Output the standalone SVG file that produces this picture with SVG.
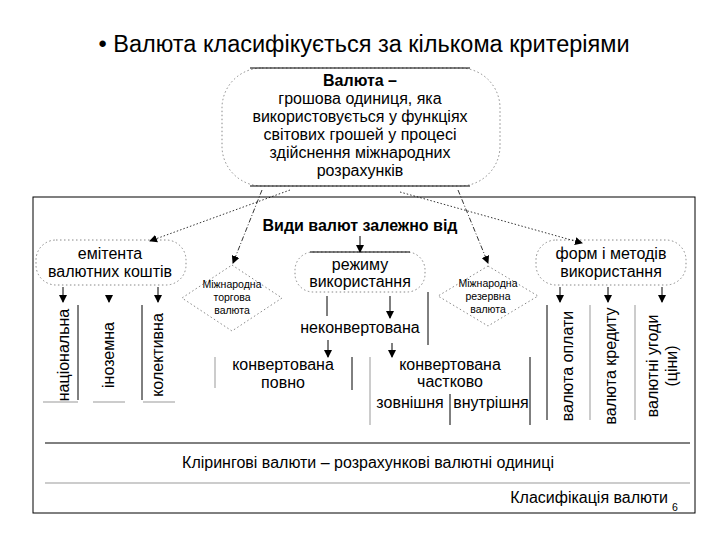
<svg xmlns="http://www.w3.org/2000/svg" width="720" height="540" viewBox="0 0 720 540">
<defs>
<marker id="ah" markerWidth="8" markerHeight="8" refX="7" refY="4" orient="auto" markerUnits="userSpaceOnUse"><path d="M0,0 L8,4 L0,8 z" fill="#000"/></marker>
<style>
text{font-family:"Liberation Sans",Arial,sans-serif;fill:#000;text-anchor:middle}
.t{font-size:16px}.s{font-size:10.5px}.b{font-weight:bold}
.dot{fill:none;stroke:#888;stroke-width:1;stroke-dasharray:1.5 2.5}
.ln{stroke:#000;stroke-width:1;fill:none}
.lg{stroke:#999;stroke-width:1;fill:none}
.ar{stroke:#000;stroke-width:1;marker-end:url(#ah);fill:none}
.dd{stroke:#000;stroke-width:0.8;stroke-dasharray:5 2 1 2;marker-end:url(#ah);fill:none}
.dt{stroke:#000;stroke-width:0.8;stroke-dasharray:1.5 2;marker-end:url(#ah);fill:none}
</style>
</defs>
<rect width="720" height="540" fill="#fff"/>
<text x="364" y="52" style="font-size:23.5px">• Валюта класифікується за кількома критеріями</text>
<rect x="33" y="197" width="662" height="316" fill="none" stroke="#000"/>

<g id="valyuta">
<rect x="222" y="68" width="278" height="118" rx="40" class="dot"/>
<line x1="250" y1="68" x2="470" y2="68" class="ln"/>
<line x1="250" y1="186" x2="470" y2="186" class="ln"/>
<text x="360" y="86" class="t b">Валюта –</text>
<text x="360" y="104" class="t">грошова одиниця, яка</text>
<text x="360" y="122" class="t">використовується у функціях</text>
<text x="360" y="140" class="t">світових грошей у процесі</text>
<text x="360" y="158" class="t">здійснення міжнародних</text>
<text x="360" y="176" class="t">розрахунків</text>
</g>

<g id="vydy"><text x="360" y="231" class="t b">Види валют залежно від</text></g>

<g id="emitenta">
<rect x="36" y="240" width="150" height="45" rx="20" class="dot"/>
<text x="110" y="259" class="t">емітента</text>
<text x="110" y="277" class="t">валютних коштів</text>
</g>
<g id="emit-items">
<text transform="translate(69,355) rotate(-90)" class="t">національна</text>
<text transform="translate(114,355) rotate(-90)" class="t">іноземна</text>
<text transform="translate(163,355) rotate(-90)" class="t">колективна</text>
<line x1="78" y1="305" x2="78" y2="400" class="ln"/>
<line x1="142" y1="305" x2="142" y2="400" class="ln"/>
<line x1="43" y1="402" x2="78" y2="402" class="lg"/>
<line x1="93" y1="402" x2="125" y2="402" class="lg"/>
<line x1="143" y1="402" x2="175" y2="402" class="lg"/>
</g>

<g id="torgova">
<polygon points="232,265 282,298 232,331 182,298" class="dot"/>
<text x="232" y="288" class="s">Міжнародна</text>
<text x="232" y="301" class="s">торгова</text>
<text x="232" y="314" class="s">валюта</text>
</g>

<g id="rezhymu">
<rect x="295" y="252" width="130" height="40" rx="18" class="dot"/>
<line x1="310" y1="252" x2="410" y2="252" class="ln"/>
<text x="360" y="270" class="t">режиму</text>
<text x="360" y="287" class="t">використання</text>
</g>
<g id="nekonv">
<text x="360" y="333" class="t">неконвертована</text>
<line x1="428" y1="292" x2="428" y2="345" class="ln"/>
</g>
<g id="konv-povno">
<line x1="215" y1="357" x2="215" y2="388" class="lg"/>
<line x1="352" y1="357" x2="352" y2="390" class="ln"/>
<text x="283" y="370" class="t">конвертована</text>
<text x="283" y="388" class="t">повно</text>
</g>
<g id="konv-chast">
<line x1="370" y1="357" x2="370" y2="425" class="lg"/>
<line x1="530" y1="357" x2="530" y2="425" class="ln"/>
<line x1="450" y1="394" x2="450" y2="425" class="ln"/>
<text x="450" y="370" class="t">конвертована</text>
<text x="450" y="387" class="t">частково</text>
<text x="410" y="408" class="t">зовнішня</text>
<text x="491" y="408" class="t">внутрішня</text>
</g>

<g id="rezervna">
<polygon points="488,266 538,296 488,326 438,296" class="dot"/>
<text x="488" y="287" class="s">Міжнародна</text>
<text x="488" y="300" class="s">резервна</text>
<text x="488" y="313" class="s">валюта</text>
</g>

<g id="form">
<rect x="536" y="240" width="150" height="45" rx="20" class="dot"/>
<text x="611" y="259" class="t">форм і методів</text>
<text x="611" y="277" class="t">використання</text>
</g>
<g id="form-items">
<line x1="547" y1="305" x2="547" y2="420" class="ln"/>
<line x1="590" y1="305" x2="590" y2="420" class="lg"/>
<line x1="635" y1="305" x2="635" y2="420" class="lg"/>
<text transform="translate(573,366) rotate(-90)" class="t">валюта оплати</text>
<text transform="translate(616,366) rotate(-90)" class="t">валюта кредиту</text>
<text transform="translate(658,366) rotate(-90)" class="t">валютні угоди</text>
<text transform="translate(677,366) rotate(-90)" class="t">(ціни)</text>
</g>

<g id="klir">
<line x1="45" y1="443" x2="690" y2="443" class="ln"/>
<text x="368" y="468" class="t">Клірингові валюти – розрахункові валютні одиниці</text>
<line x1="45" y1="483" x2="690" y2="483" class="lg"/>
</g>
<g id="caption">
<text x="668" y="503" class="t" style="text-anchor:end">Класифікація валюти</text>
<text x="675" y="511" class="s">6</text>
</g>

<g id="connectors">
<line x1="290" y1="190" x2="150" y2="241" class="dt"/>
<line x1="262" y1="190" x2="233" y2="263" class="dd"/>
<line x1="458" y1="190" x2="488" y2="263" class="dd"/>
<line x1="400" y1="192" x2="582" y2="243" class="dt"/>
<line x1="360" y1="236" x2="360" y2="252" class="ar"/>
<line x1="63" y1="287" x2="63" y2="302" class="ar"/>
<line x1="109" y1="298" x2="109" y2="302" class="ar"/>
<line x1="158" y1="287" x2="158" y2="302" class="ar"/>
<line x1="327" y1="296" x2="327" y2="316" class="ln"/>
<line x1="390" y1="296" x2="390" y2="318" class="ar"/>
<line x1="328" y1="340" x2="328" y2="357" class="ar"/>
<line x1="392" y1="343" x2="392" y2="357" class="ar"/>
<line x1="560" y1="287" x2="560" y2="302" class="ar"/>
<line x1="608" y1="287" x2="608" y2="302" class="ar"/>
<line x1="662" y1="287" x2="662" y2="302" class="ar"/>
</g>
</svg>
